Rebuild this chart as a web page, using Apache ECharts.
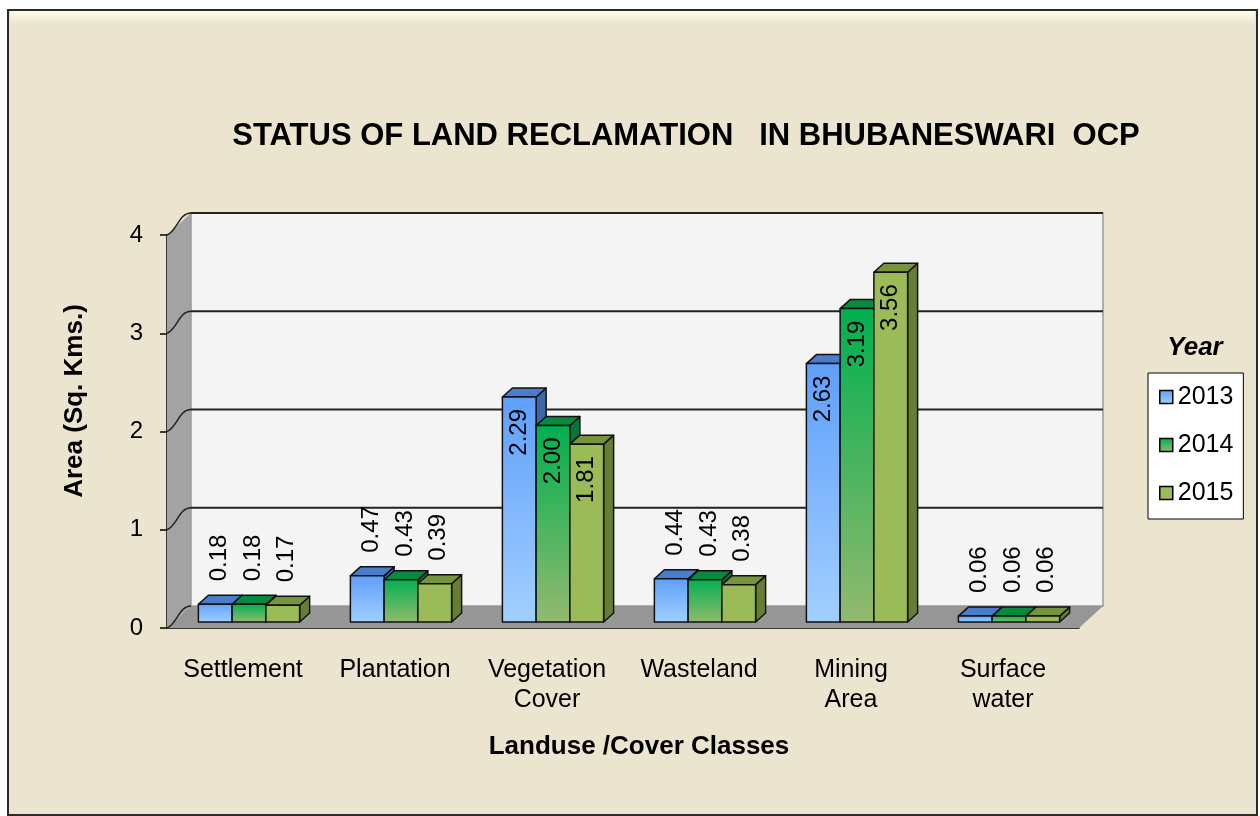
<!DOCTYPE html>
<html>
<head>
<meta charset="utf-8">
<title>Status of land reclamation in Bhubaneswari OCP</title>
<script src="https://cdn.jsdelivr.net/npm/echarts@6/dist/echarts.min.js"></script>
<style>
  html, body { margin: 0; padding: 0; background: #fff; }
  #chart { width: 1260px; height: 816px; }
</style>
</head>
<body>
<div id="chart"></div>
<script>
// land use classes and area per year (sq. km)
const categories = ['Settlement', 'Plantation', 'Vegetation\nCover', 'Wasteland', 'Mining\nArea', 'Surface\nwater'];
const years = ['2013', '2014', '2015'];
const area2013 = [0.18, 0.47, 2.29, 0.44, 2.63, 0.06];
const area2014 = [0.18, 0.43, 2.00, 0.43, 3.19, 0.06];
const area2015 = [0.17, 0.39, 1.81, 0.38, 3.56, 0.06];
const yTicks = [0, 1, 2, 3, 4];

const FONT = '"Liberation Sans", Arial, sans-serif';
// fake 3D: wall depth and bar depth in px
const WALL_DX = 24, WALL_DY = 22;
const BAR_OFF = 6, BAR_DX = 10, BAR_DY = 9;

const barColors = [
  { front: ['#5f9ffb', '#a2cfff'], top: '#4a7ccc', side: '#3d67ad' },
  { front: ['#00b050', '#93b96e'], top: '#078a3e', side: '#06763a' },
  { front: ['#9bbb59', '#9bbb59'], top: '#77933c', side: '#667e35' },
];

const chart = echarts.init(document.getElementById('chart'));

// back wall, side wall, floor and gridlines
function renderWalls(params, api) {
  const cs = params.coordSys;
  const x0 = cs.x, x1 = cs.x + cs.width, yT = cs.y, yB = cs.y + cs.height;
  const children = [
    {
      type: 'polygon',
      shape: { points: [[x0, yT], [x0 + WALL_DX, yT - WALL_DY], [x0 + WALL_DX, yB - WALL_DY], [x0, yB]] },
      style: { fill: '#a3a3a3' },
    },
    {
      type: 'rect',
      shape: { x: x0 + WALL_DX, y: yT - WALL_DY, width: cs.width, height: cs.height },
      style: { fill: '#f4f4f4', stroke: '#9a9a9a', lineWidth: 1.5 },
    },
    {
      type: 'polygon',
      shape: { points: [[x0, yB], [x0 + WALL_DX, yB - WALL_DY], [x1 + WALL_DX, yB - WALL_DY], [x1, yB]] },
      style: { fill: '#969696' },
    },
  ];
  yTicks.forEach(function (t) {
    const y = api.coord([0, t])[1];
    if (t > 0) {
      children.push({
        type: 'line',
        shape: { x1: x0 + WALL_DX, y1: y - WALL_DY, x2: x1 + WALL_DX, y2: y - WALL_DY },
        style: { stroke: '#222', lineWidth: 2 },
      });
    }
    children.push({
      type: 'bezierCurve',
      shape: { x1: x0, y1: y, x2: x0 + WALL_DX, y2: y - WALL_DY, cpx1: x0 + 10, cpy1: y - 4, cpx2: x0 + 12, cpy2: y - WALL_DY },
      style: { stroke: '#222', lineWidth: 1.5, fill: null },
    });
  });
  return { type: 'group', children: children };
}

function makeBarRenderer(s) {
  const c = barColors[s];
  return function (params, api) {
    const cat = api.value(0);
    const v = api.value(1);
    const p0 = api.coord([cat, 0]);
    const p1 = api.coord([cat, v]);
    const w = api.size([1, 0])[0] * 0.222;
    const xl = p0[0] - 1.5 * w + s * w + BAR_OFF;
    const xr = xl + w;
    const yb = p0[1] - BAR_OFF;
    const yt = p1[1] - BAR_OFF;
    const h = yb - yt;
    const edge = { stroke: '#111', lineWidth: 1.5, lineJoin: 'round' };
    const inside = h > 70;
    return {
      type: 'group',
      children: [
        {
          type: 'polygon',
          shape: { points: [[xr, yb], [xr + BAR_DX, yb - BAR_DY], [xr + BAR_DX, yt - BAR_DY], [xr, yt]] },
          style: Object.assign({ fill: c.side }, edge),
        },
        {
          type: 'polygon',
          shape: { points: [[xl, yt], [xl + BAR_DX, yt - BAR_DY], [xr + BAR_DX, yt - BAR_DY], [xr, yt]] },
          style: Object.assign({ fill: c.top }, edge),
        },
        {
          type: 'rect',
          shape: { x: xl, y: yt, width: w, height: h },
          style: Object.assign({
            fill: new echarts.graphic.LinearGradient(0, 0, 0, 1, [
              { offset: 0, color: c.front[0] },
              { offset: 1, color: c.front[1] },
            ]),
          }, edge),
        },
        {
          type: 'text',
          x: inside ? (xl + xr) / 2 : (xl + xr) / 2 + 4,
          y: inside ? yt + 12 : yt - 23,
          rotation: Math.PI / 2,
          z2: 10,
          style: {
            text: v.toFixed(2),
            fill: '#000',
            font: '24px ' + FONT,
            align: inside ? 'right' : 'left',
            verticalAlign: 'middle',
          },
        },
      ],
    };
  };
}

const seriesData = [area2013, area2014, area2015];

const option = {
  animation: false,
  backgroundColor: '#ffffff',
  graphic: [
    {
      type: 'rect',
      z: -10,
      shape: { x: 8, y: 10, width: 1249, height: 805 },
      style: { fill: '#ebe5cf', stroke: '#2b2b2b', lineWidth: 2 },
    },
    {
      type: 'rect',
      z: -9,
      shape: { x: 10, y: 11, width: 1245, height: 13 },
      style: {
        fill: new echarts.graphic.LinearGradient(0, 0, 0, 1, [
          { offset: 0, color: '#fffcea' },
          { offset: 1, color: '#ebe5cf' },
        ]),
      },
    },
    {
      type: 'text',
      x: 75,
      y: 401,
      rotation: Math.PI / 2,
      style: {
        text: 'Area (Sq. Kms.)',
        fill: '#000',
        font: 'bold 26px ' + FONT,
        align: 'center',
        verticalAlign: 'middle',
      },
    },
  ],
  title: [
    {
      text: 'STATUS OF LAND RECLAMATION   IN BHUBANESWARI  OCP',
      left: 686,
      top: 121,
      padding: 0,
      textAlign: 'center',
      textStyle: { fontSize: 31, fontWeight: 'bold', fontFamily: FONT, color: '#000' },
    },
    {
      text: 'Year',
      left: 1195,
      top: 335,
      padding: 0,
      textAlign: 'center',
      textStyle: { fontSize: 26, fontWeight: 'bold', fontStyle: 'italic', fontFamily: FONT, color: '#000' },
    },
    {
      text: 'Landuse /Cover Classes',
      left: 639,
      top: 734,
      padding: 0,
      textAlign: 'center',
      textStyle: { fontSize: 26, fontWeight: 'bold', fontFamily: FONT, color: '#000' },
    },
  ],
  legend: {
    orient: 'vertical',
    left: 1148,
    top: 373,
    icon: 'rect',
    itemWidth: 13,
    itemHeight: 13,
    itemGap: 20,
    padding: [10, 10, 12, 11],
    backgroundColor: '#ffffff',
    borderColor: '#000',
    borderWidth: 1,
    textStyle: { fontSize: 25, lineHeight: 28, fontFamily: FONT, color: '#000' },
    data: years.map(function (y, i) {
      return {
        name: y,
        itemStyle: {
          color: new echarts.graphic.LinearGradient(0, 0, 0, 1, [
            { offset: 0, color: barColors[i].front[0] },
            { offset: 1, color: barColors[i].front[1] },
          ]),
          borderColor: '#000',
          borderWidth: 1.5,
        },
      };
    }),
  },
  grid: { left: 167, right: 181, top: 235, bottom: 188 },
  xAxis: {
    type: 'category',
    data: categories,
    axisLine: { lineStyle: { color: '#000', width: 1.5 } },
    axisTick: { length: 10, lineStyle: { color: '#000', width: 1.5 } },
    axisLabel: { color: '#000', fontSize: 25, fontFamily: FONT, lineHeight: 30, margin: 27, interval: 0 },
    splitLine: { show: false },
  },
  yAxis: {
    type: 'value',
    min: 0,
    max: 4,
    interval: 1,
    axisLine: { show: true, lineStyle: { color: '#000', width: 1.5 } },
    axisTick: { show: true, length: 7, lineStyle: { color: '#000', width: 1.5 } },
    axisLabel: { color: '#000', fontSize: 24, fontFamily: FONT, margin: 24 },
    splitLine: { show: false },
  },
  series: [
    {
      type: 'custom',
      name: 'walls',
      silent: true,
      renderItem: renderWalls,
      data: [[0, 0]],
      encode: { x: 0, y: 1 },
    },
  ].concat(years.map(function (y, i) {
    return {
      type: 'custom',
      name: y,
      renderItem: makeBarRenderer(i),
      data: seriesData[i].map(function (v, k) { return [k, v]; }),
      encode: { x: 0, y: 1 },
      itemStyle: { color: barColors[i].front[0] },
    };
  })),
};

chart.setOption(option);
</script>
</body>
</html>
